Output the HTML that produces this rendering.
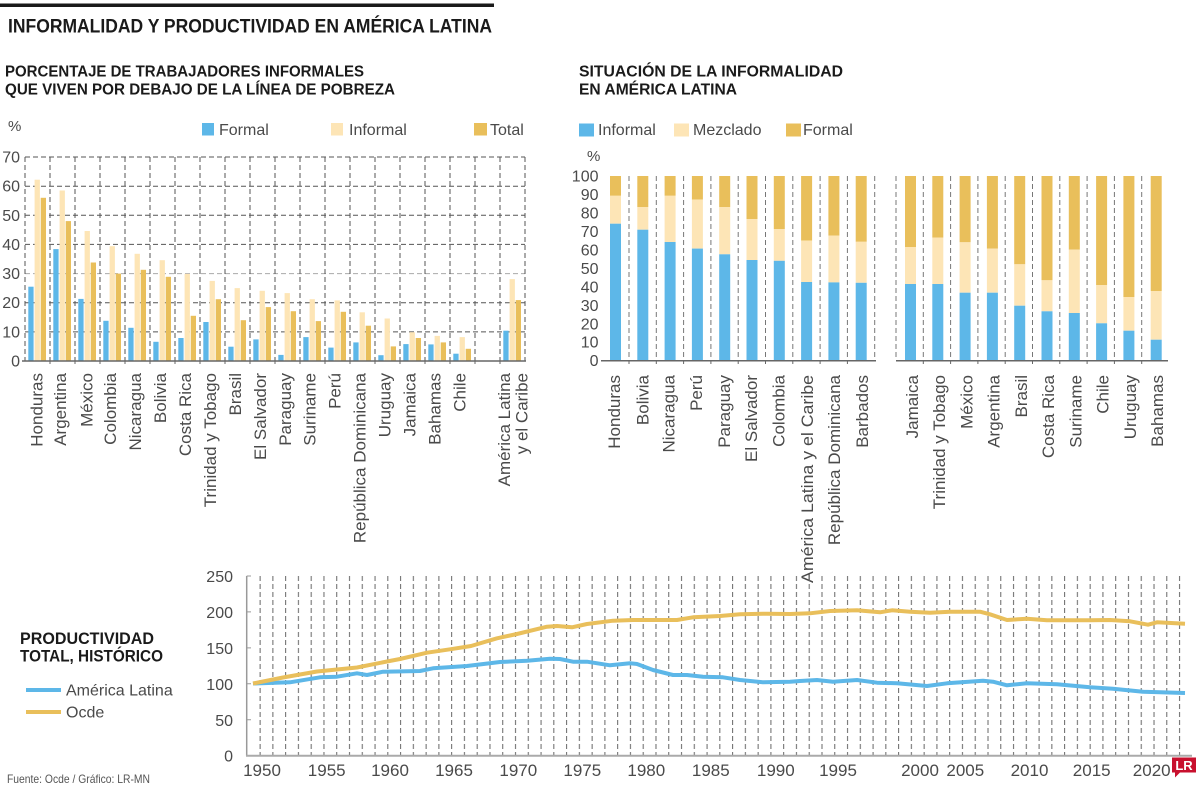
<!DOCTYPE html>
<html><head><meta charset="utf-8"><style>
html,body{margin:0;padding:0;background:#fff;}
svg{display:block;}
text{font-family:"Liberation Sans",sans-serif;}
</style></head><body>
<svg width="1200" height="791" viewBox="0 0 1200 791" xmlns="http://www.w3.org/2000/svg">
<defs>
<pattern id="vg" x="253.615" y="576" width="12.77" height="8" patternUnits="userSpaceOnUse"><rect x="6" y="0" width="1" height="5" fill="#666"/></pattern>
</defs>
<rect width="1200" height="791" fill="#fff"/>
<!-- Title -->
<rect x="0" y="3.5" width="494" height="3.5" fill="#1a1a1a"/>
<text x="8" y="32.5" font-size="19.5" font-weight="bold" fill="#1a1a1a" textLength="484" lengthAdjust="spacingAndGlyphs">INFORMALIDAD Y PRODUCTIVIDAD EN AMÉRICA LATINA</text>

<!-- Left subtitle -->
<text x="5" y="76.5" font-size="16" font-weight="bold" fill="#1a1a1a" textLength="359" lengthAdjust="spacingAndGlyphs">PORCENTAJE DE TRABAJADORES INFORMALES</text>
<text x="5" y="94.5" font-size="16" font-weight="bold" fill="#1a1a1a" textLength="390" lengthAdjust="spacingAndGlyphs">QUE VIVEN POR DEBAJO DE LA LÍNEA DE POBREZA</text>
<!-- Right subtitle -->
<text x="579" y="76.5" font-size="16" font-weight="bold" fill="#1a1a1a" textLength="264" lengthAdjust="spacingAndGlyphs">SITUACIÓN DE LA INFORMALIDAD</text>
<text x="579" y="94.5" font-size="16" font-weight="bold" fill="#1a1a1a" textLength="158" lengthAdjust="spacingAndGlyphs">EN AMÉRICA LATINA</text>

<!-- Left legend -->
<g font-size="16" fill="#4a4a4a">
<text x="8" y="131" font-size="15">%</text>
<rect x="202" y="123" width="12" height="12.5" fill="#5DB7E8"/>
<text x="219" y="135">Formal</text>
<rect x="331" y="123" width="12" height="12.5" fill="#FDE5B6"/>
<text x="349" y="135">Informal</text>
<rect x="474" y="123" width="13" height="12.5" fill="#E9BF5B"/>
<text x="490" y="135">Total</text>
</g>
<!-- Right legend -->
<g font-size="16" fill="#4a4a4a">
<rect x="579" y="123.5" width="15" height="13" fill="#5DB7E8"/>
<text x="598" y="135">Informal</text>
<rect x="674" y="123.5" width="15" height="13" fill="#FDE5B6"/>
<text x="693" y="135">Mezclado</text>
<rect x="786" y="123.5" width="15" height="13" fill="#E9BF5B"/>
<text x="803" y="135">Formal</text>
<text x="587" y="161" font-size="15">%</text>
</g>

<!-- LEFT CHART -->
<g stroke="#555" stroke-width="1" stroke-dasharray="5,3" fill="none">
<path d="M25 157H525M25 186.2H525M25 215.3H525M25 244.4H525M25 302.7H525M25 331.9H525"/>
<path d="M25 273.6H525" stroke="#aaa"/>
<path d="M25 157V361M50 157V361M75 157V361M100 157V361M125 157V361M150 157V361M175 157V361M200 157V361M225 157V361M250 157V361M275 157V361M300 157V361M325 157V361M350 157V361M375 157V361M400 157V361M425 157V361M450 157V361M475 157V361M500 157V361M525 157V361"/>
</g>
<g font-size="16" fill="#4a4a4a" text-anchor="end">
<text x="20" y="366.5">0</text>
<text x="20" y="337.4">10</text>
<text x="20" y="308.2">20</text>
<text x="20" y="279.1">30</text>
<text x="20" y="249.9">40</text>
<text x="20" y="220.8">50</text>
<text x="20" y="191.7">60</text>
<text x="20" y="162.5">70</text>
</g>
<!-- left bars: blue -->
<g fill="#5DB7E8">
<rect x="28.3" y="286.7" width="5.3" height="74.3"/>
<rect x="53.3" y="249.1" width="5.3" height="111.9"/>
<rect x="78.3" y="298.9" width="5.3" height="62.1"/>
<rect x="103.3" y="320.8" width="5.3" height="40.2"/>
<rect x="128.3" y="327.8" width="5.3" height="33.2"/>
<rect x="153.3" y="341.8" width="5.3" height="19.2"/>
<rect x="178.3" y="338" width="5.3" height="23"/>
<rect x="203.3" y="322" width="5.3" height="39"/>
<rect x="228.3" y="346.7" width="5.3" height="14.3"/>
<rect x="253.3" y="339.4" width="5.3" height="21.6"/>
<rect x="278.3" y="354.9" width="5.3" height="6.1"/>
<rect x="303.3" y="337.1" width="5.3" height="23.9"/>
<rect x="328.3" y="347.6" width="5.3" height="13.4"/>
<rect x="353.3" y="342.4" width="5.3" height="18.6"/>
<rect x="378.3" y="355.2" width="5.3" height="5.8"/>
<rect x="403.3" y="344.1" width="5.3" height="16.9"/>
<rect x="428.3" y="344.4" width="5.3" height="16.6"/>
<rect x="453.3" y="353.7" width="5.3" height="7.3"/>
<rect x="503.3" y="330.7" width="5.3" height="30.3"/>
</g>
<g fill="#FDE5B6">
<rect x="34.6" y="179.7" width="5.3" height="181.3"/>
<rect x="59.6" y="190.5" width="5.3" height="170.5"/>
<rect x="84.6" y="231" width="5.3" height="130"/>
<rect x="109.6" y="246.2" width="5.3" height="114.8"/>
<rect x="134.6" y="253.8" width="5.3" height="107.2"/>
<rect x="159.6" y="260.2" width="5.3" height="100.8"/>
<rect x="184.6" y="273.9" width="5.3" height="87.1"/>
<rect x="209.6" y="280.9" width="5.3" height="80.1"/>
<rect x="234.6" y="288.1" width="5.3" height="72.9"/>
<rect x="259.6" y="290.8" width="5.3" height="70.2"/>
<rect x="284.6" y="293.1" width="5.3" height="67.9"/>
<rect x="309.6" y="299.2" width="5.3" height="61.8"/>
<rect x="334.6" y="300.4" width="5.3" height="60.6"/>
<rect x="359.6" y="312.3" width="5.3" height="48.7"/>
<rect x="384.6" y="318.5" width="5.3" height="42.5"/>
<rect x="409.6" y="332.2" width="5.3" height="28.8"/>
<rect x="434.6" y="335.9" width="5.3" height="25.1"/>
<rect x="459.6" y="337.1" width="5.3" height="23.9"/>
<rect x="509.6" y="279.1" width="5.3" height="81.9"/>
</g>
<g fill="#E9BF5B">
<rect x="40.7" y="197.8" width="5.3" height="163.2"/>
<rect x="65.7" y="221.1" width="5.3" height="139.9"/>
<rect x="90.7" y="262.5" width="5.3" height="98.5"/>
<rect x="115.7" y="273.6" width="5.3" height="87.4"/>
<rect x="140.7" y="269.8" width="5.3" height="91.2"/>
<rect x="165.7" y="276.8" width="5.3" height="84.2"/>
<rect x="190.7" y="315.8" width="5.3" height="45.2"/>
<rect x="215.7" y="299.2" width="5.3" height="61.8"/>
<rect x="240.7" y="320.2" width="5.3" height="40.8"/>
<rect x="265.7" y="307.1" width="5.3" height="53.9"/>
<rect x="290.7" y="311.2" width="5.3" height="49.8"/>
<rect x="315.7" y="321.1" width="5.3" height="39.9"/>
<rect x="340.7" y="311.8" width="5.3" height="49.2"/>
<rect x="365.7" y="325.7" width="5.3" height="35.3"/>
<rect x="390.7" y="346.4" width="5.3" height="14.6"/>
<rect x="415.7" y="338" width="5.3" height="23"/>
<rect x="440.7" y="342.4" width="5.3" height="18.6"/>
<rect x="465.7" y="348.8" width="5.3" height="12.2"/>
<rect x="515.7" y="300.1" width="5.3" height="60.9"/>
</g>
<line x1="22" y1="361" x2="526" y2="361" stroke="#666" stroke-width="1.5"/>
<path d="M50 361V364M75 361V364M100 361V364M125 361V364M150 361V364M175 361V364M200 361V364M225 361V364M250 361V364M275 361V364M300 361V364M325 361V364M350 361V364M375 361V364M400 361V364M425 361V364M450 361V364M475 361V364M500 361V364" stroke="#666" stroke-width="1"/>
<!-- left x labels -->
<g font-size="17" fill="#4a4a4a" text-anchor="end">
<text transform="translate(42.3,373) rotate(-90)">Honduras</text>
<text transform="translate(66.2,373) rotate(-90)">Argentina</text>
<text transform="translate(92.3,373) rotate(-90)">México</text>
<text transform="translate(116.2,373) rotate(-90)">Colombia</text>
<text transform="translate(141.2,373) rotate(-90)">Nicaragua</text>
<text transform="translate(166.2,373) rotate(-90)">Bolivia</text>
<text transform="translate(191.2,373) rotate(-90)">Costa Rica</text>
<text transform="translate(216.2,373) rotate(-90)">Trinidad y Tobago</text>
<text transform="translate(241.2,373) rotate(-90)">Brasil</text>
<text transform="translate(266.2,373) rotate(-90)">El Salvador</text>
<text transform="translate(291.2,373) rotate(-90)">Paraguay</text>
<text transform="translate(315.5,373) rotate(-90)">Suriname</text>
<text transform="translate(340.5,373) rotate(-90)">Perú</text>
<text transform="translate(365.5,373) rotate(-90)">República Dominicana</text>
<text transform="translate(390.5,373) rotate(-90)">Uruguay</text>
<text transform="translate(415.5,373) rotate(-90)">Jamaica</text>
<text transform="translate(440.5,373) rotate(-90)">Bahamas</text>
<text transform="translate(465.5,373) rotate(-90)">Chile</text>
<text transform="translate(509.8,373) rotate(-90)">América Latina</text>
<text transform="translate(527.5,373) rotate(-90)">y el Caribe</text>
</g>

<!-- RIGHT CHART -->
<g stroke="#777" stroke-width="1" stroke-dasharray="5,3" fill="none">
<path d="M629 176V360M656.3 176V360M683.6 176V360M710.9 176V360M738.2 176V360M765.5 176V360M792.8 176V360M820.1 176V360M847.4 176V360M874.7 176V360M896 176V360M923.3 176V360M950.6 176V360M977.9 176V360M1005.2 176V360M1032.5 176V360M1059.8 176V360M1087.1 176V360M1114.4 176V360M1141.7 176V360"/>
</g>
<g font-size="16" fill="#4a4a4a" text-anchor="end">
<text x="598.5" y="366.2">0</text>
<text x="598.5" y="347.7">10</text>
<text x="598.5" y="329.3">20</text>
<text x="598.5" y="310.8">30</text>
<text x="598.5" y="292.3">40</text>
<text x="598.5" y="273.9">50</text>
<text x="598.5" y="255.4">60</text>
<text x="598.5" y="236.9">70</text>
<text x="598.5" y="218.5">80</text>
<text x="598.5" y="200">90</text>
<text x="598.5" y="181.5">100</text>
</g>
<!-- stacked bars: formal (top) -->
<g fill="#E9BF5B">
<rect x="610" y="176" width="11" height="19.8"/>
<rect x="637.3" y="176" width="11" height="31"/>
<rect x="664.6" y="176" width="11" height="19.8"/>
<rect x="691.9" y="176" width="11" height="23.6"/>
<rect x="719.2" y="176" width="11" height="31"/>
<rect x="746.5" y="176" width="11" height="43"/>
<rect x="773.8" y="176" width="11" height="53"/>
<rect x="801.1" y="176" width="11" height="64.6"/>
<rect x="828.4" y="176" width="11" height="59.7"/>
<rect x="855.7" y="176" width="11" height="65.8"/>
<rect x="905" y="176" width="11" height="71"/>
<rect x="932.3" y="176" width="11" height="61.7"/>
<rect x="959.6" y="176" width="11" height="66.3"/>
<rect x="986.9" y="176" width="11" height="72.7"/>
<rect x="1014.2" y="176" width="11" height="88.3"/>
<rect x="1041.5" y="176" width="11" height="104.3"/>
<rect x="1068.8" y="176" width="11" height="73.7"/>
<rect x="1096.1" y="176" width="11" height="109"/>
<rect x="1123.4" y="176" width="11" height="121"/>
<rect x="1150.7" y="176" width="11" height="115"/>
</g>
<g fill="#FDE5B6">
<rect x="610" y="195.8" width="11" height="27.9"/>
<rect x="637.3" y="207" width="11" height="22.7"/>
<rect x="664.6" y="195.8" width="11" height="46.2"/>
<rect x="691.9" y="199.6" width="11" height="49"/>
<rect x="719.2" y="207" width="11" height="47.3"/>
<rect x="746.5" y="219" width="11" height="41"/>
<rect x="773.8" y="229" width="11" height="31.8"/>
<rect x="801.1" y="240.6" width="11" height="41.4"/>
<rect x="828.4" y="235.7" width="11" height="46.7"/>
<rect x="855.7" y="241.8" width="11" height="41"/>
<rect x="905" y="247" width="11" height="37"/>
<rect x="932.3" y="237.7" width="11" height="46.3"/>
<rect x="959.6" y="242.3" width="11" height="50.4"/>
<rect x="986.9" y="248.7" width="11" height="44"/>
<rect x="1014.2" y="264.3" width="11" height="41.4"/>
<rect x="1041.5" y="280.3" width="11" height="31"/>
<rect x="1068.8" y="249.7" width="11" height="63.3"/>
<rect x="1096.1" y="285" width="11" height="38.3"/>
<rect x="1123.4" y="297" width="11" height="33.7"/>
<rect x="1150.7" y="291" width="11" height="48.7"/>
</g>
<g fill="#5DB7E8">
<rect x="610" y="223.7" width="11" height="137"/>
<rect x="637.3" y="229.7" width="11" height="131"/>
<rect x="664.6" y="242" width="11" height="118.7"/>
<rect x="691.9" y="248.6" width="11" height="112.1"/>
<rect x="719.2" y="254.3" width="11" height="106.4"/>
<rect x="746.5" y="260" width="11" height="100.7"/>
<rect x="773.8" y="260.8" width="11" height="99.9"/>
<rect x="801.1" y="282" width="11" height="78.7"/>
<rect x="828.4" y="282.4" width="11" height="78.3"/>
<rect x="855.7" y="282.8" width="11" height="77.9"/>
<rect x="905" y="284" width="11" height="76.7"/>
<rect x="932.3" y="284" width="11" height="76.7"/>
<rect x="959.6" y="292.7" width="11" height="68"/>
<rect x="986.9" y="292.7" width="11" height="68"/>
<rect x="1014.2" y="305.7" width="11" height="55"/>
<rect x="1041.5" y="311.3" width="11" height="49.4"/>
<rect x="1068.8" y="313" width="11" height="47.7"/>
<rect x="1096.1" y="323.3" width="11" height="37.4"/>
<rect x="1123.4" y="330.7" width="11" height="30"/>
<rect x="1150.7" y="339.7" width="11" height="21"/>
</g>
<g stroke="#666" stroke-width="1.5">
<line x1="601" y1="360.7" x2="876" y2="360.7"/>
<line x1="896" y1="360.7" x2="1168" y2="360.7"/>
</g>
<path d="M629 360.7V364M656.3 360.7V364M683.6 360.7V364M710.9 360.7V364M738.2 360.7V364M765.5 360.7V364M792.8 360.7V364M820.1 360.7V364M847.4 360.7V364M923.3 360.7V364M950.6 360.7V364M977.9 360.7V364M1005.2 360.7V364M1032.5 360.7V364M1059.8 360.7V364M1087.1 360.7V364M1114.4 360.7V364M1141.7 360.7V364" stroke="#666" stroke-width="1"/>
<g font-size="17" fill="#4a4a4a" text-anchor="end">
<text transform="translate(620.2,375) rotate(-90)">Honduras</text>
<text transform="translate(648.3,375) rotate(-90)">Bolivia</text>
<text transform="translate(674.7,375) rotate(-90)">Nicaragua</text>
<text transform="translate(702,375) rotate(-90)">Perú</text>
<text transform="translate(730,375) rotate(-90)">Paraguay</text>
<text transform="translate(757.2,375) rotate(-90)">El Salvador</text>
<text transform="translate(784.5,375) rotate(-90)">Colombia</text>
<text transform="translate(812.9,375) rotate(-90)" textLength="208" lengthAdjust="spacingAndGlyphs">América Latina y el Caribe</text>
<text transform="translate(840.1,375) rotate(-90)">República Dominicana</text>
<text transform="translate(868.1,375) rotate(-90)">Barbados</text>
<text transform="translate(917.9,375) rotate(-90)">Jamaica</text>
<text transform="translate(945.1,375) rotate(-90)">Trinidad y Tobago</text>
<text transform="translate(972.4,375) rotate(-90)">México</text>
<text transform="translate(999.6,375) rotate(-90)">Argentina</text>
<text transform="translate(1026.9,375) rotate(-90)">Brasil</text>
<text transform="translate(1054.1,375) rotate(-90)">Costa Rica</text>
<text transform="translate(1081.3,375) rotate(-90)">Suriname</text>
<text transform="translate(1108.5,375) rotate(-90)">Chile</text>
<text transform="translate(1135.8,375) rotate(-90)">Uruguay</text>
<text transform="translate(1163,375) rotate(-90)">Bahamas</text>
</g>

<!-- BOTTOM CHART -->
<text x="20" y="644" font-size="17" font-weight="bold" fill="#1a1a1a" textLength="134" lengthAdjust="spacingAndGlyphs">PRODUCTIVIDAD</text>
<text x="20" y="661.5" font-size="17" font-weight="bold" fill="#1a1a1a" textLength="143" lengthAdjust="spacingAndGlyphs">TOTAL, HISTÓRICO</text>
<line x1="26" y1="690" x2="61" y2="690" stroke="#5DB7E8" stroke-width="4"/>
<text x="66" y="695.5" font-size="16" fill="#4a4a4a">América Latina</text>
<line x1="26" y1="712" x2="61" y2="712" stroke="#E9BF5B" stroke-width="4"/>
<text x="66" y="717.5" font-size="16" fill="#4a4a4a">Ocde</text>
<text x="7" y="783" font-size="12" fill="#555" textLength="143" lengthAdjust="spacingAndGlyphs">Fuente: Ocde / Gráfico: LR-MN</text>

<rect x="253.615" y="576" width="932.2" height="179.7" fill="url(#vg)"/>
<line x1="246.7" y1="576" x2="246.7" y2="755.7" stroke="#999" stroke-width="1.5"/>
<path d="M246.7 576H251M246.7 611.9H251M246.7 647.9H251M246.7 683.8H251M246.7 719.8H251" stroke="#999" stroke-width="1"/>
<line x1="246" y1="755.7" x2="1192" y2="755.7" stroke="#aaa" stroke-width="2"/>
<g font-size="16" fill="#4a4a4a" text-anchor="end">
<text x="233" y="582">250</text>
<text x="233" y="617.9">200</text>
<text x="233" y="653.9">150</text>
<text x="233" y="689.8">100</text>
<text x="233" y="725.8">50</text>
<text x="233" y="761.7">0</text>
</g>
<g font-size="17" fill="#4a4a4a" text-anchor="middle">
<text x="262" y="776">1950</text>
<text x="326.7" y="776">1955</text>
<text x="390" y="776">1960</text>
<text x="454" y="776">1965</text>
<text x="518.3" y="776">1970</text>
<text x="582.3" y="776">1975</text>
<text x="646.3" y="776">1980</text>
<text x="710.8" y="776">1985</text>
<text x="775.8" y="776">1990</text>
<text x="838" y="776">1995</text>
<text x="920" y="776">2000</text>
<text x="965.3" y="776">2005</text>
<text x="1029.5" y="776">2010</text>
<text x="1091.7" y="776">2015</text>
<text x="1151.7" y="776">2020</text>
</g>
<polyline fill="none" stroke="#5DB7E8" stroke-width="4" stroke-linejoin="round" points="253,683.5 290,682.3 320,677.3 337,676.7 357,673.3 367,675 383,671.7 420,671 433,668.3 467,666 500,662 527,660.7 550,658.7 560,659 573,661.7 587,661.7 610,665.3 630,663.3 637,664 653,670 673,675 687,675 703,676.7 723,677.3 740,680 763,682.3 790,681.7 800,681 817,680 833,681.7 857,680 877,682.7 897,683.3 927,686 947,683.3 983,680.7 993,681.7 1007,685.3 1027,683.3 1057,684.3 1090,687.3 1113,688.7 1143,691.7 1185,693"/>
<polyline fill="none" stroke="#E9BF5B" stroke-width="4" stroke-linejoin="round" points="253,683.5 283,677.5 317,671.5 337,669.5 357,667.5 387,661.5 400,659 427,652.7 450,649.3 471,646 497,638.3 517,634 547,626.7 557,626 572,627.3 587,624 613,620.7 633,620 677,620 693,617.3 720,616 740,614.3 767,613.7 790,614 810,613.3 830,611 857,610.3 880,612.3 892,610.3 910,611.7 930,612.7 950,611.7 980,611.7 990,614.3 1007,620 1027,618.7 1047,620.3 1090,620.3 1110,620 1130,621.3 1148,624.7 1157,622.3 1185,623.7"/>

<!-- LR logo -->
<rect x="1172" y="757.5" width="24" height="15" fill="#C8102E"/>
<polygon points="1175,772 1175,777.5 1180.5,772" fill="#C8102E"/>
<text x="1184" y="770" font-family="Liberation Serif, serif" font-weight="bold" font-size="13" fill="#fff" text-anchor="middle">LR</text>
</svg>
</body></html>
